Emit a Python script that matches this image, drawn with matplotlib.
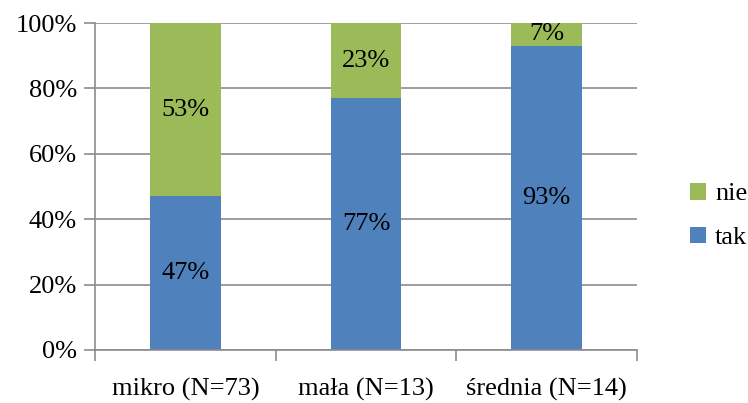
import matplotlib.pyplot as plt
import numpy as np

# Firm size categories and answer shares (percent)
categories = ["mikro (N=73)", "mała (N=13)", "średnia (N=14)"]
tak = [47, 77, 93]
nie = [53, 23, 7]

plt.rcParams['font.family'] = ['Liberation Serif', 'DejaVu Serif']
fs = 19

fig = plt.figure(figsize=(7.48, 4.03), dpi=100)
ax = fig.add_axes([95 / 748, 53 / 403, 542 / 748, 327 / 403])

blue = "#4F81BD"
green = "#9BBB59"
x = np.arange(len(categories))
width = 0.39

bars_tak = ax.bar(x, tak, width, color=blue, label="tak", zorder=2)
bars_nie = ax.bar(x, nie, width, bottom=tak, color=green, label="nie", zorder=2)

# value labels in the middle of each segment
for i in range(len(categories)):
    ax.text(x[i], tak[i] / 2, f"{tak[i]}%", ha="center", va="center", fontsize=fs)
    ax.text(x[i], tak[i] + nie[i] / 2, f"{nie[i]}%", ha="center", va="center", fontsize=fs)

ax.set_xlim(-0.5, len(categories) - 0.5)
ax.set_ylim(0, 100)
ax.set_yticks(np.arange(0, 101, 20))
ax.set_yticklabels([f"{v}%" for v in range(0, 101, 20)], fontsize=fs)
ax.yaxis.grid(True, color="#8c8c8c", linewidth=1.2, zorder=0)

# category labels centred, tick marks on category boundaries
ax.set_xticks(np.arange(-0.5, len(categories)), minor=False)
ax.set_xticklabels([])
ax.set_xticks(x, minor=True)
ax.set_xticklabels(categories, minor=True, fontsize=fs)
ax.tick_params(axis="x", which="minor", length=0, pad=20)
ax.tick_params(axis="x", which="major", length=8, color="#8c8c8c", width=1.2)
ax.tick_params(axis="y", length=8, color="#8c8c8c", width=1.2, pad=5)

for side in ["top", "right"]:
    ax.spines[side].set_visible(False)
for side in ["left", "bottom"]:
    ax.spines[side].set_color("#8c8c8c")
    ax.spines[side].set_linewidth(1.2)

handles = [bars_nie, bars_tak]
fig.legend(handles, ["nie", "tak"], loc="center left", bbox_to_anchor=(690 / 748, 1 - 216 / 403),
           frameon=False, fontsize=fs, handlelength=0.6, handleheight=0.6,
           handletextpad=0.35, labelspacing=0.8, borderpad=0, borderaxespad=0)

fig.savefig("out.png", dpi=100)
